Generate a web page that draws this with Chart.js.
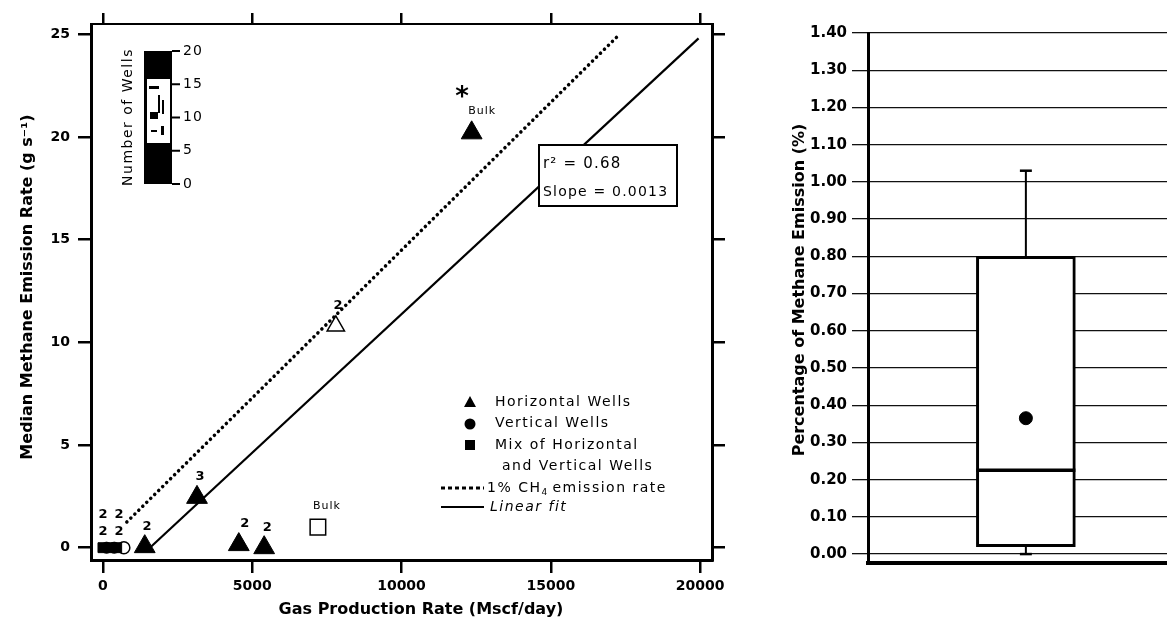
<!DOCTYPE html>
<html lang="en">
<head>
<meta charset="UTF-8" />
<title>Methane emission vs gas production</title>
<script src="https://cdn.jsdelivr.net/npm/chart.js"></script>
<style>
  html, body { margin: 0; padding: 0; background: #fff; }
  #wrap { position: relative; width: 1167px; height: 621px; overflow: hidden; }
  #scatterChart { position: absolute; left: 0; top: 0; }
  #boxChart { position: absolute; left: 760px; top: 0; }
</style>
</head>
<body>
<div id="wrap">
  <canvas id="scatterChart" width="760" height="621"></canvas>
  <canvas id="boxChart" width="407" height="621"></canvas>
</div>

<script>
// ---- left panel: median emission rate vs gas production ----
const xTicks = [0, 5000, 10000, 15000, 20000];
const yTicks = [0, 5, 10, 15, 20, 25];

const horizX = [1400, 3150, 4550, 5400, 12350];
const horizY = [0.05, 2.45, 0.15, 0.0, 20.2];
const openTriX = [7800];
const openTriY = [10.8];
const vertX = [120, 380];
const vertY = [0, 0];
const mixX = [0, 250, 460];
const mixY = [0, 0, 0];
const openCircX = [700];
const openCircY = [0];
const bulkSqX = [7200];
const bulkSqY = [1.0];

const onePctX = [800, 17200];
const onePctY = [1.25, 24.85];
const fitX = [1500, 19950];
const fitY = [-0.1, 24.8];

// well counts and notes written next to the markers
const noteText = ['2', '2', '2', '2', '2', '3', '2', '2', '2', 'Bulk', 'Bulk', '*'];
const noteX = [0, 0, 540, 540, 1480, 3250, 4750, 5500, 7870, 7500, 12700, 12030];
const noteY = [1.6, 0.78, 1.6, 0.78, 1.02, 3.45, 1.17, 0.97, 11.8, 2.0, 21.25, 21.9];

const fitStats = ['r\u00b2 = 0.68', 'Slope = 0.0013'];
const wellCountTicks = [0, 5, 10, 15, 20];

// ---- right panel: percentage of methane emission ----
const pctTicks = [0, 0.1, 0.2, 0.3, 0.4, 0.5, 0.6, 0.7, 0.8, 0.9, 1.0, 1.1, 1.2, 1.3, 1.4];
const boxLabels = ['All sites'];
const boxMin = [0.0];
const boxQ1 = [0.02];
const boxMedian = [0.225];
const boxQ3 = [0.80];
const boxMax = [1.03];
const boxMean = [0.365];

const pts = (xs, ys) => xs.map((x, i) => ({ x: x, y: ys[i] }));
const fixTicks = vals => scale => { scale.ticks = vals.map(v => ({ value: v })); };

function say(ctx, s, x, y, font, align, spacing) {
  ctx.font = font;
  ctx.letterSpacing = (spacing || 0) + 'px';
  ctx.textAlign = align || 'left';
  ctx.textBaseline = 'middle';
  ctx.fillText(s, x, y);
  ctx.letterSpacing = '0px';
}

function sayUp(ctx, s, x, y, font, spacing) {
  ctx.save();
  ctx.translate(x, y);
  ctx.rotate(-Math.PI / 2);
  say(ctx, s, 0, 0, font, 'center', spacing);
  ctx.restore();
}

const leftDecor = {
  id: 'leftDecor',
  afterDatasetsDraw(chart) {
    const { ctx, scales: { x, y } } = chart;
    ctx.save();
    ctx.fillStyle = '#000';
    ctx.strokeStyle = '#000';

    noteText.forEach((t, i) => {
      let font = 'bold 13px "DejaVu Sans"';
      if (t === '*') font = 'bold 26px "DejaVu Sans"';
      if (t === 'Bulk') font = '11px "DejaVu Sans"';
      say(ctx, t, x.getPixelForValue(noteX[i]), y.getPixelForValue(noteY[i]), font, 'center', t === 'Bulk' ? 1 : 0);
    });

    // colour bar (number of wells)
    const cbTop = 51, cbBot = 184, cbL = 144, cbR = 172;
    ctx.fillRect(cbL, cbTop, cbR - cbL, cbBot - cbTop);
    ctx.fillStyle = '#fff';
    ctx.fillRect(147, 79, 23, 64);
    ctx.fillStyle = '#000';
    ctx.fillRect(149, 86, 10, 3);
    ctx.fillRect(158, 95, 2, 18);
    ctx.fillRect(150, 112, 8, 7);
    ctx.fillRect(162, 100, 2, 14);
    ctx.fillRect(151, 130, 6, 2);
    ctx.fillRect(161, 126, 3, 9);
    ctx.lineWidth = 2;
    wellCountTicks.forEach(v => {
      const py = cbBot - (v / 20) * (cbBot - cbTop);
      ctx.beginPath();
      ctx.moveTo(cbR, py);
      ctx.lineTo(cbR + 8, py);
      ctx.stroke();
      say(ctx, String(v), cbR + 11, py, '14px "DejaVu Sans"', 'left', 1);
    });
    sayUp(ctx, 'Number of Wells', 128, 117, '14px "DejaVu Sans"', 1.5);

    // fit statistics box
    ctx.fillStyle = '#fff';
    ctx.fillRect(539, 145, 138, 61);
    ctx.lineWidth = 2;
    ctx.strokeRect(539, 145, 138, 61);
    ctx.fillStyle = '#000';
    say(ctx, fitStats[0], 543, 164, '15px "DejaVu Sans"', 'left', 1.2);
    say(ctx, fitStats[1], 543, 192, '14px "DejaVu Sans"', 'left', 1.2);

    // legend
    const lf = '14px "DejaVu Sans"';
    ctx.beginPath();
    ctx.moveTo(470, 396); ctx.lineTo(476, 407); ctx.lineTo(464, 407); ctx.closePath();
    ctx.fill();
    say(ctx, 'Horizontal Wells', 495, 402, lf, 'left', 1.5);
    ctx.beginPath();
    ctx.arc(470, 424, 5.5, 0, Math.PI * 2);
    ctx.fill();
    say(ctx, 'Vertical Wells', 495, 423, lf, 'left', 1.5);
    ctx.fillRect(465, 440, 10, 10);
    say(ctx, 'Mix of Horizontal', 495, 445, lf, 'left', 1.5);
    say(ctx, 'and Vertical Wells', 502, 466, lf, 'left', 1.5);
    ctx.lineWidth = 3;
    ctx.setLineDash([4, 3]);
    ctx.beginPath(); ctx.moveTo(441, 488); ctx.lineTo(484, 488); ctx.stroke();
    ctx.setLineDash([]);
    say(ctx, '1% CH', 487, 488, lf, 'left', 1.5);
    ctx.font = lf; ctx.letterSpacing = '1.5px';
    let w = ctx.measureText('1% CH').width;
    say(ctx, '4', 487 + w, 493, '9px "DejaVu Sans"', 'left', 0);
    say(ctx, 'emission rate', 487 + w + 11, 488, lf, 'left', 1.5);
    ctx.lineWidth = 2;
    ctx.beginPath(); ctx.moveTo(441, 507); ctx.lineTo(484, 507); ctx.stroke();
    say(ctx, 'Linear fit', 490, 507, 'italic 14px "DejaVu Sans"', 'left', 1.5);

    // axis titles
    say(ctx, 'Gas Production Rate (Mscf/day)', 421, 610, 'bold 16px "DejaVu Sans"', 'center', 0);
    sayUp(ctx, 'Median Methane Emission Rate (g s\u207b\u00b9)', 28, 287, 'bold 16px "DejaVu Sans"', 0);
    ctx.restore();
  }
};

const tickFont = { family: 'DejaVu Sans', weight: 'bold', size: 14 };
const edgeGrid = { drawOnChartArea: false, tickLength: 13, lineWidth: 2.5, color: '#000' };

new Chart(document.getElementById('scatterChart'), {
  type: 'scatter',
  data: {
    datasets: [
      { label: 'Horizontal Wells', data: pts(horizX, horizY), pointStyle: 'triangle', pointRadius: 12,
        backgroundColor: '#000', borderColor: '#000', borderWidth: 1 },
      { label: 'Horizontal Wells (open)', data: pts(openTriX, openTriY), pointStyle: 'triangle', pointRadius: 10,
        backgroundColor: '#fff', borderColor: '#000', borderWidth: 1.5 },
      { label: 'Mix of Horizontal and Vertical Wells', data: pts(mixX, mixY), pointStyle: 'rect', pointRadius: 7,
        backgroundColor: '#000', borderColor: '#000', borderWidth: 1 },
      { label: 'Vertical Wells', data: pts(vertX, vertY), pointStyle: 'circle', pointRadius: 5.5,
        backgroundColor: '#000', borderColor: '#000', borderWidth: 1 },
      { label: 'Vertical Wells (open)', data: pts(openCircX, openCircY), pointStyle: 'circle', pointRadius: 6,
        backgroundColor: '#fff', borderColor: '#000', borderWidth: 1.5 },
      { label: 'Bulk (open)', data: pts(bulkSqX, bulkSqY), pointStyle: 'rect', pointRadius: 11,
        backgroundColor: '#fff', borderColor: '#000', borderWidth: 1.5 },
      { type: 'line', label: '1% CH4 emission rate', data: pts(onePctX, onePctY), borderColor: '#000',
        borderWidth: 3.5, borderDash: [0.1, 5.5], borderCapStyle: 'round', pointRadius: 0 },
      { type: 'line', label: 'Linear fit', data: pts(fitX, fitY), borderColor: '#000',
        borderWidth: 2.2, pointRadius: 0 }
    ]
  },
  options: {
    responsive: false,
    animation: false,
    devicePixelRatio: 1,
    layout: { padding: 0, autoPadding: false },
    plugins: { legend: { display: false }, tooltip: { enabled: false } },
    scales: {
      x: {
        type: 'linear', position: 'bottom', min: -400, max: 20400,
        afterBuildTicks: fixTicks(xTicks), afterFit: s => { s.height = 61; },
        grid: edgeGrid, border: { width: 3, color: '#000' },
        ticks: { font: tickFont, color: '#000', padding: 5, maxRotation: 0, autoSkip: false,
          callback: v => String(v) }
      },
      xTop: {
        type: 'linear', position: 'top', min: -400, max: 20400,
        afterBuildTicks: fixTicks(xTicks), afterFit: s => { s.height = 24; },
        grid: { drawOnChartArea: false, tickLength: 11, lineWidth: 2.5, color: '#000' },
        border: { width: 2, color: '#000' }, ticks: { display: false }
      },
      y: {
        type: 'linear', position: 'left', min: -0.6, max: 25.5,
        afterBuildTicks: fixTicks(yTicks), afterFit: s => { s.width = 91; },
        grid: edgeGrid, border: { width: 3, color: '#000' },
        ticks: { font: tickFont, color: '#000', padding: 8, callback: v => String(v) }
      },
      yRight: {
        type: 'linear', position: 'right', min: -0.6, max: 25.5,
        afterBuildTicks: fixTicks(yTicks), afterFit: s => { s.width = 48; },
        grid: edgeGrid, border: { width: 3, color: '#000' }, ticks: { display: false }
      }
    }
  },
  plugins: [leftDecor]
});

// ---- right panel ----
const boxCenter = 0.528;   // horizontal position of the box on a 0..1 axis
const boxHalf = 0.1656;
const capHalf = 0.02;
const pctMinorTicks = [];
for (let v = 0; v <= 140; v += 2) pctMinorTicks.push(v / 100);

const rightDecor = {
  id: 'rightDecor',
  afterDraw(chart) {
    const { ctx } = chart;
    ctx.save();
    ctx.fillStyle = '#000';
    sayUp(ctx, 'Percentage of Methane Emission (%)', 40, 290, 'bold 16px "DejaVu Sans"', 0);
    ctx.restore();
  }
};

const seg = (x0, y0, x1, y1) => [{ x: x0, y: y0 }, { x: x1, y: y1 }];
const lineStyle = w => ({ type: 'line', borderColor: '#000', borderWidth: w, pointRadius: 0, order: 1 });

const boxSets = [];
boxLabels.forEach((name, i) => {
  boxSets.push(Object.assign(lineStyle(3.5), { label: name + ' median',
    data: seg(boxCenter - boxHalf, boxMedian[i], boxCenter + boxHalf, boxMedian[i]) }));
  boxSets.push(Object.assign(lineStyle(2), { label: name + ' upper whisker',
    data: seg(boxCenter, boxQ3[i], boxCenter, boxMax[i]) }));
  boxSets.push(Object.assign(lineStyle(2.5), { label: name + ' upper cap',
    data: seg(boxCenter - capHalf, boxMax[i], boxCenter + capHalf, boxMax[i]) }));
  boxSets.push(Object.assign(lineStyle(2), { label: name + ' lower whisker',
    data: seg(boxCenter, boxMin[i], boxCenter, boxQ1[i]) }));
  boxSets.push(Object.assign(lineStyle(2.5), { label: name + ' lower cap',
    data: seg(boxCenter - capHalf, boxMin[i], boxCenter + capHalf, boxMin[i]) }));
  boxSets.push({ type: 'scatter', label: name + ' mean', data: [{ x: boxCenter, y: boxMean[i] }],
    pointRadius: 6.5, backgroundColor: '#000', borderColor: '#000', order: 0 });
  boxSets.push({ type: 'bar', label: name, data: [{ x: boxCenter, y: [boxQ1[i], boxQ3[i]] }],
    backgroundColor: '#fff', borderColor: '#000', borderWidth: 3, borderSkipped: false,
    barThickness: 99, order: 5 });
});

new Chart(document.getElementById('boxChart'), {
  type: 'bar',
  data: { datasets: boxSets },
  options: {
    responsive: false,
    animation: false,
    devicePixelRatio: 1,
    layout: { padding: { top: 33, right: 0, left: 0, bottom: 0 }, autoPadding: false },
    plugins: { legend: { display: false }, tooltip: { enabled: false } },
    scales: {
      x: {
        type: 'linear', position: 'bottom', min: 0, max: 1, offset: false,
        afterFit: s => { s.height = 58; s.paddingLeft = 0; s.paddingRight = 0; },
        grid: { display: false }, ticks: { display: false },
        border: { width: 4, color: '#000' }
      },
      y: {
        type: 'linear', position: 'left', min: -0.024, max: 1.40,
        afterBuildTicks: fixTicks(pctTicks), afterFit: s => { s.width = 108; },
        grid: { drawOnChartArea: true, tickLength: 16, lineWidth: 1.3, color: '#111' },
        border: { width: 3, color: '#000' },
        ticks: { font: { family: 'DejaVu Sans', weight: 'bold', size: 15 }, color: '#000', padding: 5,
          callback: v => v.toFixed(2) }
      },
      yMinor: {
        type: 'linear', position: 'left', min: -0.024, max: 1.40,
        afterBuildTicks: fixTicks(pctMinorTicks), afterFit: s => { s.width = 0; },
        grid: { drawOnChartArea: false, tickLength: 8, lineWidth: 1.5, color: '#000' },
        border: { display: false }, ticks: { display: false }
      }
    }
  },
  plugins: [rightDecor]
});
</script>
</body>
</html>
